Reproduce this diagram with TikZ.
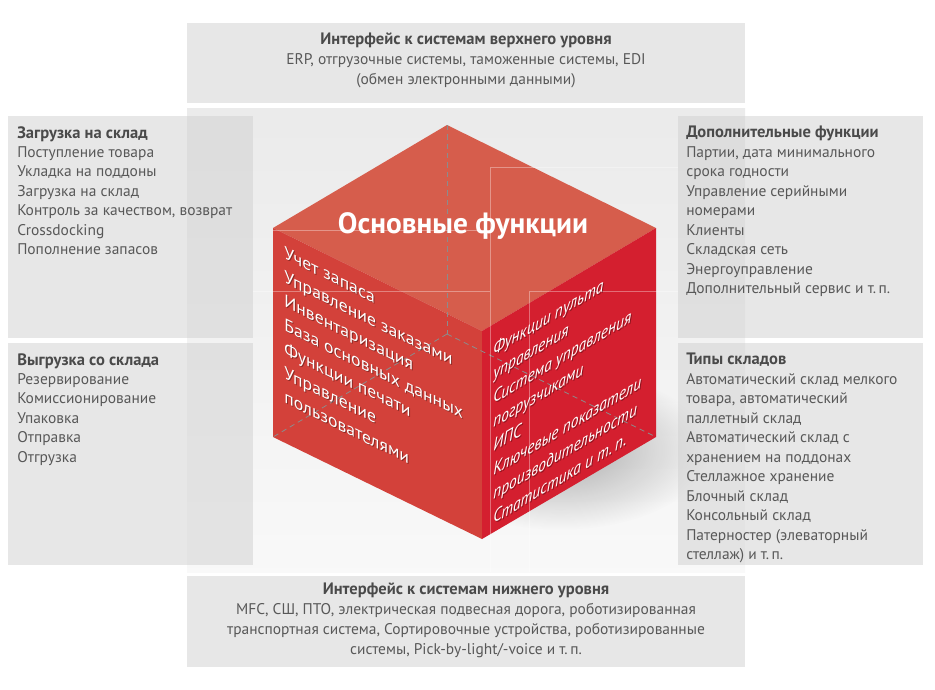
\documentclass[tikz,border=0pt]{standalone}
\usepackage{fontspec}
\setmainfont{PT Sans}
\newfontfamily\rfont[FakeStretch=0.88]{PT Sans}
\usetikzlibrary{fadings}
\tikzfading[name=softfade, inner color=transparent!0, outer color=transparent!100]
\definecolor{panelgray}{HTML}{D0D0D0}
\definecolor{topred}{HTML}{D65D4C}
\definecolor{leftred}{HTML}{D3413A}
\definecolor{rightred}{HTML}{D41F2F}
\definecolor{txtgray}{HTML}{585858}
\definecolor{headgray}{HTML}{4A4A4A}
\definecolor{hidden}{HTML}{8C8C8C}
\tikzset{
  panel/.style={fill=panelgray, fill opacity=0.5},
  paneltext/.style={inner sep=0pt, anchor=north west, align=left, text=txtgray,
    font=\fontsize{11.6}{14.6}\selectfont},
  centertext/.style={inner sep=0pt, anchor=north, align=center, text=txtgray,
    font=\fontsize{11.6}{14.8}\selectfont},
  facetext/.style={inner sep=0pt, anchor=north west, align=left, text=white,
    font=\fontsize{13.3}{18}\selectfont},
  rfacetext/.style={facetext, font=\rfont\itshape\fontsize{13.2}{18}\selectfont},
  faceshadow/.style={text=black, text opacity=0.35},
  hiddenedge/.style={draw=hidden, line width=0.6pt, dash pattern=on 4pt off 3pt},
  faintline/.style={draw=white, draw opacity=0.35, line width=0.5pt},
}
\newcommand{\hd}[1]{{\fontsize{12.4}{14.6}\bfseries\color{headgray}#1}}
\begin{document}
\begin{tikzpicture}[x=0.75pt,y=-0.75pt]
\useasboundingbox (0,0) rectangle (935,689);
% central background
\shade[top color=gray!16, middle color=gray!40, bottom color=gray!5] (187,108) rectangle (745,572);
% shadow of the cube
\fill[black, opacity=0.3, path fading=softfade] (560,450) ellipse (150 and 80);
% panels
\fill[panel] (187,23) rectangle (745,103);
\fill[panel] (187,576) rectangle (745,667);
\fill[panel] (8,116) rectangle (253,338);
\fill[panel] (8,343) rectangle (253,565);
\fill[panel] (678,116) rectangle (923,338);
\fill[panel] (678,343) rectangle (923,565);
% cube vertices
\coordinate (T) at (447,125);
\coordinate (L) at (273,228);
\coordinate (R) at (656,228);
\coordinate (F) at (482,331);
\coordinate (BL) at (273,437);
\coordinate (BR) at (656,437);
\coordinate (BF) at (482,539);
\coordinate (H) at (447,334);
\fill[topred] (L) -- (T) -- (R) -- (F) -- cycle;
\fill[leftred] (L) -- (F) -- (BF) -- (BL) -- cycle;
\fill[rightred] (F) -- (R) -- (BR) -- (BF) -- cycle;
% hidden edges
\draw[hiddenedge] (T) -- (H);
\draw[hiddenedge] (H) -- (BL);
\draw[hiddenedge] (H) -- (BR);
% faint guide lines
\draw[faintline] (273,230) -- (490,230);
\draw[faintline] (678,167) -- (490,167) -- (490,572);
\draw[faintline] (253,291) -- (490,291);
\draw[faintline] (678,291) -- (529,291) -- (529,572);
% title
\node[text=white, font=\fontsize{22}{26}\bfseries\selectfont, inner sep=0pt] (title) at (463,226) {Основные функции};
% left face text
\node[facetext, faceshadow, yslant=-0.4928] (lfs) at (285,247) {Учет запаса\\Управление заказами\\Инвентаризация\\База основных данных\\Функции печати\\Управление\\пользователями};
\node[facetext, yslant=-0.4928] (lf) at (284,246) {Учет запаса\\Управление заказами\\Инвентаризация\\База основных данных\\Функции печати\\Управление\\пользователями};
% right face text
\node[rfacetext, faceshadow, yslant=0.592] (rfs) at (494,344) {Функции пульта\\управления\\Система управления\\погрузчиками\\ИПС\\Ключевые показатели\\производительности\\Статистика и т.\,п.};
\node[rfacetext, yslant=0.592] (rf) at (493,343) {Функции пульта\\управления\\Система управления\\погрузчиками\\ИПС\\Ключевые показатели\\производительности\\Статистика и т.\,п.};
% panel texts
\node[centertext] (top) at (466,33) {\hd{Интерфейс к системам верхнего уровня}\\ERP, отгрузочные системы, таможенные системы, EDI\\(обмен электронными данными)};
\node[centertext] (bottom) at (466,583) {\hd{Интерфейс к системам нижнего уровня}\\MFC, СШ, ПТО, электрическая подвесная дорога, роботизированная\\транспортная система, Сортировочные устройства, роботизированные\\системы, Pick-by-light/-voice и т.\,п.};
\node[paneltext] (load) at (17,126) {\hd{Загрузка на склад}\\Поступление товара\\Укладка на поддоны\\Загрузка на склад\\Контроль за качеством, возврат\\Crossdocking\\Пополнение запасов};
\node[paneltext] (unload) at (17,353) {\hd{Выгрузка со склада}\\Резервирование\\Комиссионирование\\Упаковка\\Отправка\\Отгрузка};
\node[paneltext] (extra) at (686,126) {\hd{Дополнительные функции}\\Партии, дата минимального\\срока годности\\Управление серийными\\номерами\\Клиенты\\Складская сеть\\Энергоуправление\\Дополнительный сервис и т.\,п.};
\node[paneltext] (types) at (686,353) {\hd{Типы складов}\\Автоматический склад мелкого\\товара, автоматический\\паллетный склад\\Автоматический склад с\\хранением на поддонах\\Стеллажное хранение\\Блочный склад\\Консольный склад\\Патерностер (элеваторный\\стеллаж) и т.\,п.};
\end{tikzpicture}
\end{document}
